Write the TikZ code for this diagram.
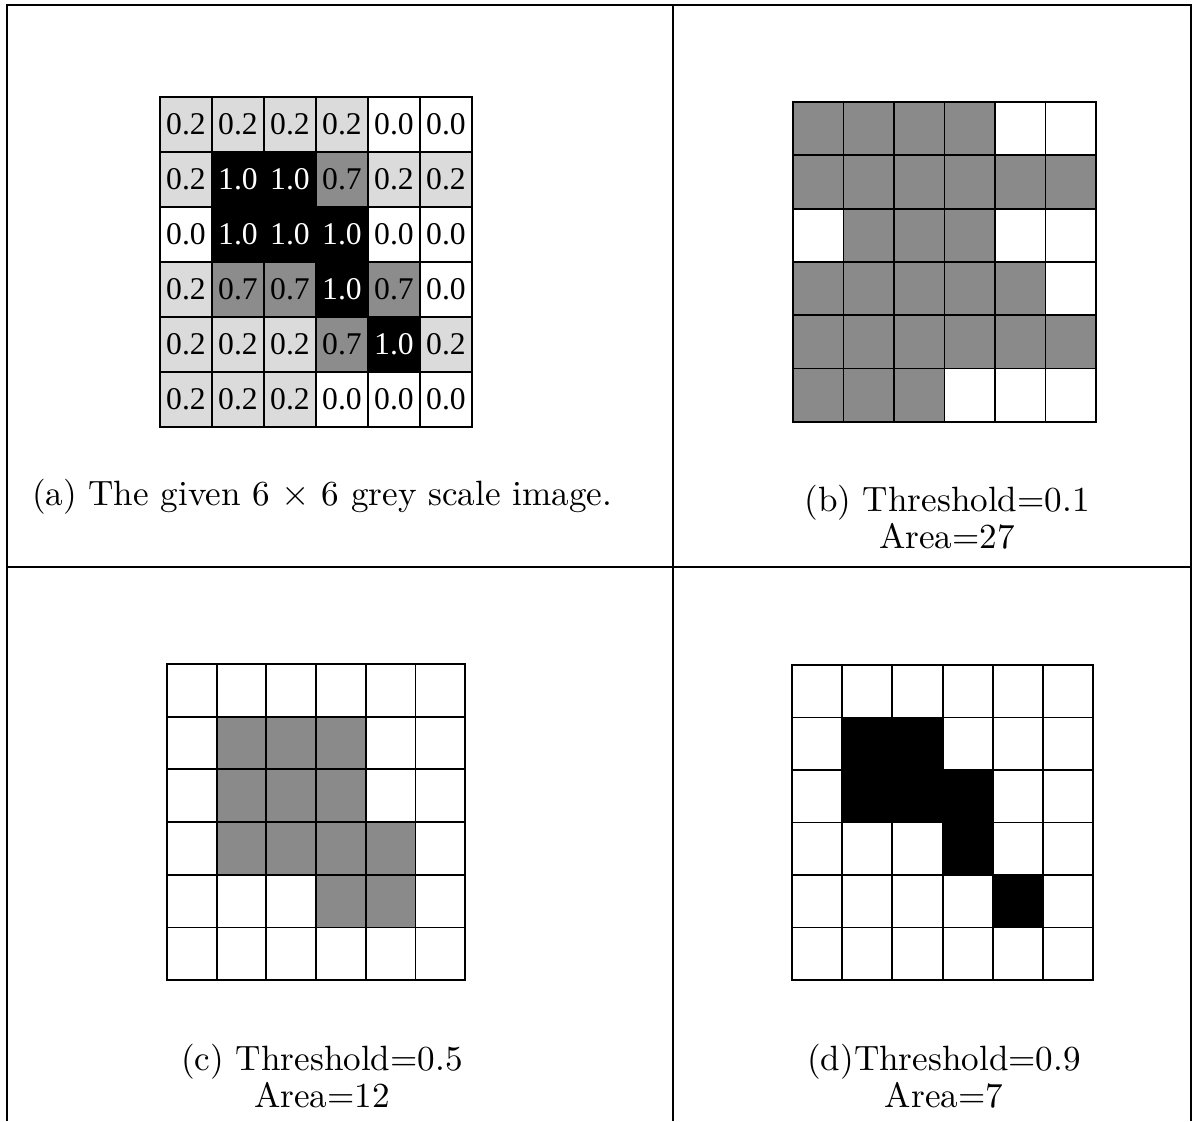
\documentclass[tikz,border=0pt]{standalone}
\usepackage{fontspec}
\setmainfont{lmroman10-regular.otf}
\newfontfamily\cellfont{Liberation Serif}

% the 6x6 grey scale image, row by row
\newcommand{\imgrows}{{0.2,0.2,0.2,0.2,0.0,0.0},{0.2,1.0,1.0,0.7,0.2,0.2},{0.0,1.0,1.0,1.0,0.0,0.0},{0.2,0.7,0.7,1.0,0.7,0.0},{0.2,0.2,0.2,0.7,1.0,0.2},{0.2,0.2,0.2,0.0,0.0,0.0}}

\begin{document}
\begin{tikzpicture}[
      x=0.02cm, y=-0.02cm,
      frame/.style={line width=1.2pt},
      cell/.style={draw, line width=1.1pt, inner sep=0pt, outer sep=0pt},
      valtext/.style={font=\cellfont\fontsize{18}{20}\selectfont},
      caption/.style={align=center, font=\fontsize{20}{21}\selectfont}
  ]
    \useasboundingbox (0,0) rectangle (1195,1121);

    % frame and dividers
    \draw[frame] (7,1121) -- (7,5) -- (1191,5) -- (1191,1121);
    \draw[frame] (673,5) -- (673,1121);
    \draw[frame] (7,567) -- (1191,567);

    % (a) given image
    \foreach \vals [count=\ri] in \imgrows {
      \foreach \v [count=\ci] in \vals {
        \pgfmathtruncatemacro\pct{\v<0.1 ? 0 : (\v<0.5 ? 14 : (\v<0.9 ? 45 : 100))}
        \pgfmathtruncatemacro\tc{\v>0.9 ? 100 : 0}
        \node[cell, valtext, minimum width=1.04cm, minimum height=1.1cm, fill=black!\pct, text=white!\tc!black]
          (a-\ri-\ci) at ({160+(\ci-0.5)*52},{97+(\ri-0.5)*55}) {\v};
      }
    }
    \node[caption] (capA) at (322,497) {(a) The given 6 $\times$ 6 grey scale image.};

    % (b) threshold 0.1
    \foreach \vals [count=\ri] in \imgrows {
      \foreach \v [count=\ci] in \vals {
        \pgfmathtruncatemacro\pct{\v>0.1 ? 46 : 0}
        \node[cell, minimum width=1.01cm, minimum height=1.066cm, fill=black!\pct]
          (b-\ri-\ci) at ({793+(\ci-0.5)*50.5},{102+(\ri-0.5)*53.3}) {};
      }
    }
    \node[caption] (capB) at (947,517) {(b) Threshold=0.1\\Area=27};

    % (c) threshold 0.5
    \foreach \vals [count=\ri] in \imgrows {
      \foreach \v [count=\ci] in \vals {
        \pgfmathtruncatemacro\pct{\v>0.5 ? 46 : 0}
        \node[cell, minimum width=0.994cm, minimum height=1.054cm, fill=black!\pct]
          (c-\ri-\ci) at ({167+(\ci-0.5)*49.7},{664+(\ri-0.5)*52.7}) {};
      }
    }
    \node[caption] (capC) at (322,1076) {(c) Threshold=0.5\\Area=12};

    % (d) threshold 0.9
    \foreach \vals [count=\ri] in \imgrows {
      \foreach \v [count=\ci] in \vals {
        \pgfmathtruncatemacro\pct{\v>0.9 ? 100 : 0}
        \node[cell, minimum width=1.004cm, minimum height=1.05cm, fill=black!\pct]
          (d-\ri-\ci) at ({792+(\ci-0.5)*50.2},{665+(\ri-0.5)*52.5}) {};
      }
    }
    \node[caption] (capD) at (944,1076) {(d)Threshold=0.9\\Area=7};
  \end{tikzpicture}
\end{document}
